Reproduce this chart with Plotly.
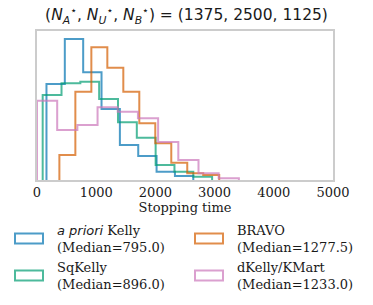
import plotly.graph_objects as go

# ---- data (density, in units of 1e-4) ----
names = ["<i>a priori</i> Kelly", "SqKelly", "BRAVO", "dKelly/KMart"]
medians = [795.0, 896.0, 1277.5, 1233.0]
colors = ["#0173B2", "#029E73", "#D55E00", "#CC78BC"]

apriori_start, apriori_width = 160, 310
apriori_dens = [6.27, 9.22, 7.04, 4.64, 2.29, 1.57, 0.54, 0.26]

sqkelly_start, sqkelly_width = 96, 318
sqkelly_dens = [5.56, 6.32, 6.42, 5.29, 3.77, 2.76, 0.98, 0.54, 0.22]

bravo_start, bravo_width = 378, 270
bravo_dens = [1.63, 5.77, 8.67, 7.34, 5.77, 3.71, 2.40, 1.13, 0.44, 0.33]

dkelly_start, dkelly_width = 0, 341
dkelly_dens = [5.18, 3.27, 3.59, 4.75, 4.46, 4.03, 2.48, 1.31, 0.44, 0.11]

xticks = [0, 1000, 2000, 3000, 4000, 5000]
title = "(<i>N</i><sub><i>A</i></sub><sup>⋆</sup>, <i>N</i><sub><i>U</i></sub><sup>⋆</sup>, <i>N</i><sub><i>B</i></sub><sup>⋆</sup>) = (1375, 2500, 1125)"

series = [
    (apriori_start, apriori_width, apriori_dens),
    (sqkelly_start, sqkelly_width, sqkelly_dens),
    (bravo_start, bravo_width, bravo_dens),
    (dkelly_start, dkelly_width, dkelly_dens),
]

SERIF = "DejaVu Serif"
TXT = "#1a1a1a"
fig = go.Figure()
for (start, width, dens), col, nm in zip(series, colors, names):
    edges = [start + k * width for k in range(len(dens) + 1)]
    xs = [edges[0]] + edges[:-1] + [edges[-1]]
    ys = [0] + [d * 1e-4 for d in dens] + [0]
    fig.add_trace(go.Scatter(x=xs, y=ys, mode="lines", line=dict(shape="hv", color=col, width=2),
                             opacity=0.7, name=nm, showlegend=False, hoverinfo="skip"))

# plot frame geometry in pixels
L, R, T, B = 37, 333, 31, 180
W, H = 373, 305

def px(xp):
    return (xp - L) / (R - L)

def py(yp):
    return (B - yp) / (B - T)

ymax = 9.74e-4
fig.update_layout(
    width=W, height=H,
    margin=dict(l=L, r=W - R, t=T, b=H - B, pad=0),
    paper_bgcolor="white", plot_bgcolor="white",
    title=dict(text=title, x=0.5, xanchor="center", y=1 - 15 / H, yanchor="middle",
               font=dict(family="DejaVu Sans", size=15.5, color=TXT)),
    xaxis=dict(range=[0, 5000], tickvals=xticks, ticktext=[str(t) for t in xticks],
               showgrid=False, zeroline=False, showline=True, mirror=True,
               linecolor="#cccccc", linewidth=1.5, ticks="",
               tickfont=dict(family=SERIF, size=13, color=TXT),
               title=dict(text="Stopping time", font=dict(family=SERIF, size=13, color=TXT), standoff=4)),
    yaxis=dict(range=[0, ymax], showticklabels=False, showgrid=False, zeroline=False,
               showline=True, mirror=True, linecolor="#cccccc", linewidth=1.5, ticks=""),
    showlegend=False,
)

# manual legend (2 columns, column-major order like matplotlib)
sym_x = [(15, 43), (15, 43), (195, 223), (195, 223)]
txt_x = [55, 55, 235, 235]
cen_y = [238.5, 275.5, 238.5, 275.5]
for i, (nm, med, col) in enumerate(zip(names, medians, colors)):
    x0, x1 = sym_x[i]
    cy = cen_y[i]
    fig.add_shape(type="rect", xref="paper", yref="paper",
                  x0=px(x0), x1=px(x1), y0=py(cy + 5), y1=py(cy - 5),
                  line=dict(color=col, width=2), fillcolor="white", opacity=0.7)
    label = nm
    if i == 0:
        label = "<span style='font-family:DejaVu Sans'><i>a priori</i></span> Kelly"
    fig.add_annotation(xref="paper", yref="paper", x=px(txt_x[i]), y=py(cy),
                       xanchor="left", yanchor="middle", showarrow=False, align="left",
                       text=f"{label}<br>(Median={med})",
                       font=dict(family=SERIF, size=13, color=TXT))

fig.write_html("out.html", config={"displayModeBar": False},
               post_script="document.body.style.margin='0';document.body.style.padding='0';")
